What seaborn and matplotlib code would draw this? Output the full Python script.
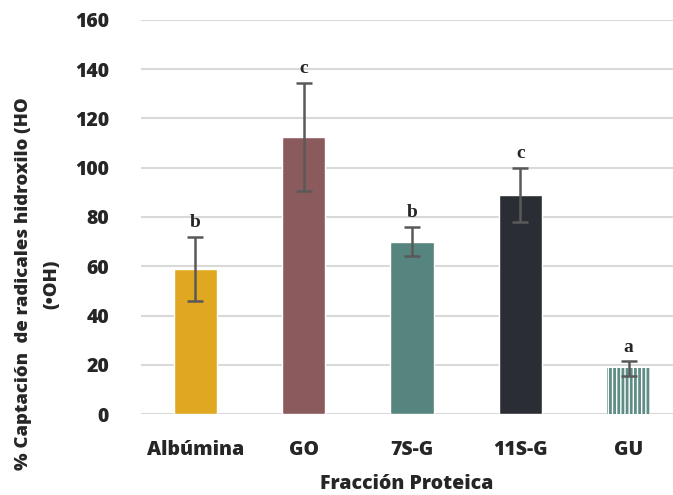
import matplotlib
matplotlib.use("Agg")
import matplotlib.pyplot as plt
import seaborn as sns
import pandas as pd
import numpy as np

categories = ["Albúmina", "GO", "7S-G", "11S-G", "GU"]
values = [59.0, 112.5, 70.0, 89.0, 18.5]
errors = [13.0, 22.0, 6.0, 11.0, 3.0]
letters = ["b", "c", "b", "c", "a"]
colors = ["#E0A820", "#8B5A5C", "#56847E", "#2A2D33", "#FFFFFF"]
yticks = [0, 20, 40, 60, 80, 100, 120, 140, 160]

sns.set_theme(style="white")
plt.rcParams['font.family'] = ['Open Sans', 'DejaVu Sans']
plt.rcParams['hatch.linewidth'] = 2.0

W = 800

df = pd.DataFrame({"cat": categories, "val": values})

fig = plt.figure(figsize=(6.73, 4.95), dpi=100)
ax = fig.add_axes([141/673, 1-414/495, (673-141)/673, (414-20)/495])

sns.barplot(data=df, x="cat", y="val", hue="cat", palette=colors, legend=False,
            width=0.40, ax=ax, errorbar=None, saturation=1, zorder=2)

# stripes on GU
gu = ax.patches[4]
gu.set_hatch("||||")
gu.set_edgecolor("#5E8D86")
gu.set_linewidth(0)

x = np.arange(len(categories))
ax.errorbar(x, values, yerr=errors, fmt="none", ecolor="#595959",
            elinewidth=1.8, capsize=6, capthick=1.8, zorder=3)

for xi, v, e, l in zip(x, values, errors, letters):
    ax.annotate(l, (xi, v + e), xytext=(0, 4), textcoords="offset points",
                ha="center", va="bottom", fontsize=14, fontweight="bold",
                family="Liberation Serif")

ax.set_ylim(0, 160)
ax.set_xlim(-0.5, 4.41)
ax.set_yticks(yticks)
ax.set_yticklabels([str(t) for t in yticks], fontsize=14, fontweight=W)
ax.tick_params(axis="x", labelsize=14, pad=13)
ax.tick_params(axis="y", pad=17)
for lab in ax.get_xticklabels():
    lab.set_fontweight(W)
ax.yaxis.grid(True, color="#D9D9D9", linewidth=1.5, zorder=0)
ax.set_axisbelow(True)
for s in ax.spines.values():
    s.set_visible(False)
ax.set_xlabel("Fracción Proteica", fontsize=14, fontweight=W, labelpad=10)
ax.set_ylabel("")

fig.text(38/673, 1-284/495, "% Captación  de radicales hidroxilo (HO\n(•OH)",
         rotation=90, ha="center", va="center", fontsize=13.3, fontweight=W,
         multialignment="center", linespacing=1.85)

fig.savefig("out.png", dpi=100)
